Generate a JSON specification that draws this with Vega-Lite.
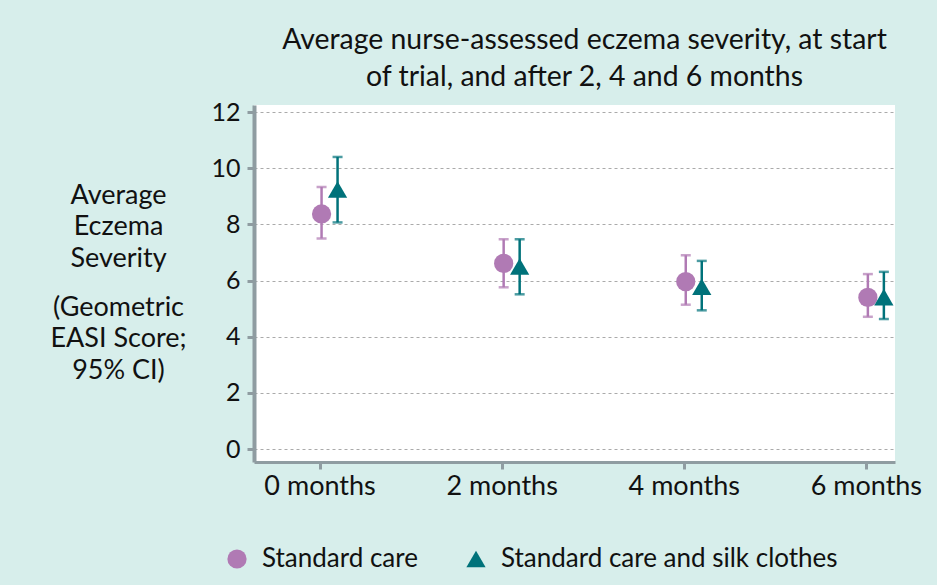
{
  "$schema": "https://vega.github.io/schema/vega-lite/v6.json",
  "width": 641,
  "height": 357,
  "autosize": {"type": "none"},
  "padding": {"left": 254, "top": 105, "right": 42, "bottom": 123},
  "background": "#d7eeeb",
  "config": {"view": {"fill": "white", "stroke": null}, "font": "Lato"},
  "title": {
    "text": ["Average nurse-assessed eczema severity, at start", "of trial, and after 2, 4 and 6 months"],
    "fontSize": 28.4,
    "font": "Lato",
    "fontWeight": "normal",
    "color": "#111111",
    "anchor": "middle",
    "dx": 10,
    "lineHeight": 37,
    "offset": 8
  },
  "data": {
    "values": [
      {"month": 0, "group": "Standard care", "mean": 8.37, "lo": 7.50, "hi": 9.33},
      {"month": 0, "group": "Standard care and silk clothes", "mean": 9.24, "lo": 8.07, "hi": 10.40},
      {"month": 2, "group": "Standard care", "mean": 6.61, "lo": 5.76, "hi": 7.47},
      {"month": 2, "group": "Standard care and silk clothes", "mean": 6.50, "lo": 5.51, "hi": 7.47},
      {"month": 4, "group": "Standard care", "mean": 5.96, "lo": 5.14, "hi": 6.90},
      {"month": 4, "group": "Standard care and silk clothes", "mean": 5.78, "lo": 4.94, "hi": 6.70},
      {"month": 6, "group": "Standard care", "mean": 5.40, "lo": 4.71, "hi": 6.23},
      {"month": 6, "group": "Standard care and silk clothes", "mean": 5.41, "lo": 4.63, "hi": 6.31}
    ]
  },
  "encoding": {
    "x": {
      "field": "month",
      "type": "quantitative",
      "scale": {"domain": [-0.72, 6.32], "nice": false, "zero": false},
      "axis": {
        "values": [0, 2, 4, 6],
        "labelExpr": "datum.value + ' months'",
        "title": null,
        "grid": false,
        "labelFontSize": 27,
        "labelFont": "Lato",
        "labelColor": "#111111",
        "labelPadding": 4,
        "labelFlush": false,
        "tickSize": 7,
        "tickWidth": 3,
        "tickColor": "#8f9ca1",
        "domainColor": "#8f9ca1",
        "domainWidth": 3
      }
    },
    "color": {
      "field": "group",
      "type": "nominal",
      "scale": {"domain": ["Standard care", "Standard care and silk clothes"], "range": ["#b07ab4", "#00727a"]},
      "legend": {
        "orient": "none",
        "legendX": -30,
        "legendY": 441,
        "direction": "horizontal",
        "title": null,
        "labelFontSize": 26,
        "labelFont": "Lato",
        "labelColor": "#111111",
        "labelLimit": 500,
        "symbolSize": 370,
        "symbolOpacity": 1,
        "labelOffset": 12,
        "columnPadding": 45,
        "symbolStrokeWidth": 0
      }
    }
  },
  "layer": [
    {
      "layer": [
        {
          "mark": {"type": "rule", "strokeWidth": 2.5, "xOffset": {"expr": "datum.group === 'Standard care' ? 2 : 18"}},
          "encoding": {
            "y": {
              "field": "lo",
              "type": "quantitative",
              "scale": {"domain": [-0.46, 12.25], "nice": false, "zero": false},
              "axis": {
                "orient": "left",
                "title": ["Average", "Eczema", "Severity"],
                "titleAngle": 0,
                "titleAlign": "center",
                "titleBaseline": "alphabetic",
                "titleX": -136,
                "titleY": 98,
                "titleFontSize": 27,
                "titleFont": "Lato",
                "titleFontWeight": "normal",
                "titleColor": "#111111",
                "titleLineHeight": 31.5,
                "values": [0, 1, 2, 3, 4, 5, 6, 7, 8, 9, 10, 11, 12],
                "labelExpr": "datum.value % 2 === 0 ? datum.label : ''",
                "labelFontSize": 25,
                "labelFont": "Lato",
                "labelColor": "#111111",
                "labelPadding": 7,
                "tickSize": {"condition": {"test": "datum.value % 2 === 1", "value": 4}, "value": 7},
                "tickColor": "#8f9ca1",
                "tickWidth": 3,
                "domainColor": "#8f9ca1",
                "domainWidth": 4,
                "grid": true,
                "gridColor": "#aaaaaa",
                "gridDash": [3, 3],
                "gridWidth": 1,
                "gridOpacity": {"condition": {"test": "datum.value % 2 === 1", "value": 0}, "value": 1}
              }
            },
            "y2": {"field": "hi"}
          }
        },
        {
          "mark": {"type": "tick", "orient": "horizontal", "size": 10, "thickness": 2.5, "xOffset": {"expr": "datum.group === 'Standard care' ? 2 : 18"}},
          "encoding": {
            "y": {"field": "lo", "type": "quantitative"}
          }
        },
        {
          "mark": {"type": "tick", "orient": "horizontal", "size": 10, "thickness": 2.5, "xOffset": {"expr": "datum.group === 'Standard care' ? 2 : 18"}},
          "encoding": {
            "y": {"field": "hi", "type": "quantitative"}
          }
        }
      ]
    },
    {
      "mark": {"type": "point", "filled": true, "size": 370, "opacity": 1, "xOffset": {"expr": "datum.group === 'Standard care' ? 2 : 18"}},
      "encoding": {
        "y": {
          "field": "mean",
          "type": "quantitative",
          "axis": {
            "orient": "left",
            "title": ["(Geometric", "EASI Score;", "95% CI)"],
            "titleAngle": 0,
            "titleAlign": "center",
            "titleBaseline": "alphabetic",
            "titleX": -136,
            "titleY": 210,
            "titleFontSize": 27,
            "titleFont": "Lato",
            "titleFontWeight": "normal",
            "titleColor": "#111111",
            "titleLineHeight": 31.5,
            "domain": false,
            "labels": false,
            "ticks": false,
            "grid": false
          }
        },
        "shape": {
          "field": "group",
          "type": "nominal",
          "scale": {"domain": ["Standard care", "Standard care and silk clothes"], "range": ["circle", "triangle-up"]}
        }
      }
    }
  ],
  "resolve": {"axis": {"y": "independent"}}
}
